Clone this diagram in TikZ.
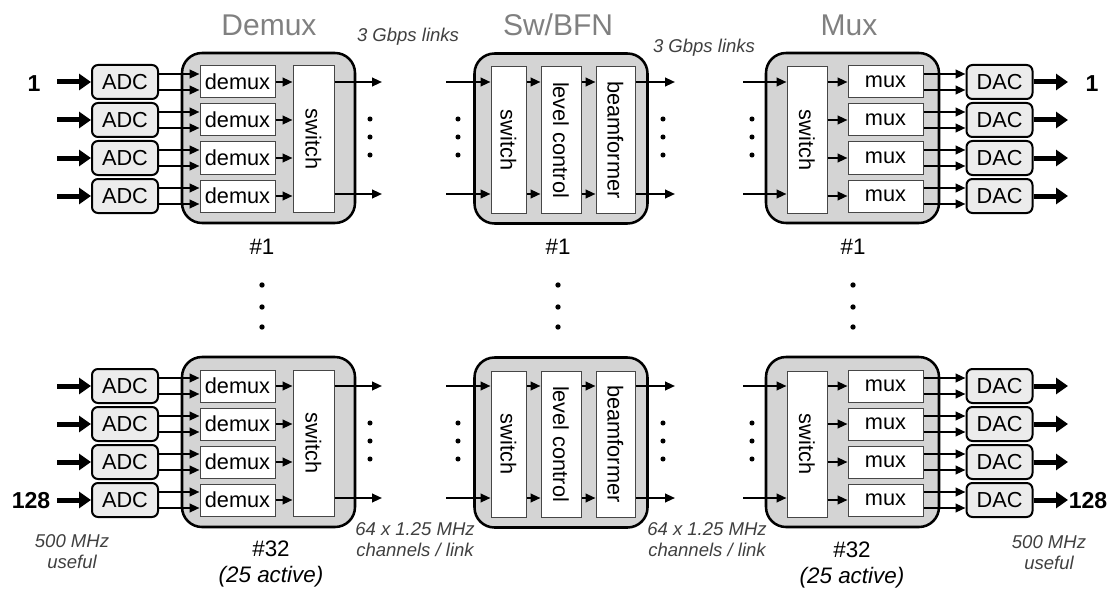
\documentclass[tikz,border=0pt]{standalone}
\usepackage{fontspec}
\setmainfont{Liberation Sans}
\usetikzlibrary{arrows.meta, positioning, calc}
\definecolor{boardgray}{RGB}{212,212,212}
\definecolor{convgray}{RGB}{236,236,236}
\definecolor{titlegray}{RGB}{128,128,128}
\definecolor{notegray}{RGB}{64,64,64}
\definecolor{edgegray}{RGB}{70,70,70}
\def\px{0.75pt}
\newcommand\blockfont{\fontsize{16.3}{19}\selectfont}
\newcommand\titlefont{\fontsize{22.5}{26}\selectfont}
\newcommand\notefont{\fontsize{13.9}{15.8}\selectfont\itshape}
\newcommand\tagfont{\fontsize{16.8}{20.2}\selectfont}
\newcommand\numfont{\fontsize{17.3}{20}\selectfont\bfseries}
\tikzset{
    board/.style={rectangle, rounded corners=15pt, draw=black, fill=boardgray, line width=1.9pt, minimum width=173*\px, minimum height=170*\px, inner sep=0pt},
    conv/.style={rectangle, rounded corners=4.5pt, draw=black, fill=convgray, line width=1.5pt, minimum width=66*\px, minimum height=34*\px, inner sep=0pt, font=\blockfont},
    unit/.style={rectangle, draw=edgegray, fill=white, line width=0.75pt, minimum width=75*\px, minimum height=32*\px, inner sep=0pt, font=\blockfont},
    tall/.style={rectangle, draw=edgegray, fill=white, line width=0.75pt, minimum width=#1*\px, minimum height=146*\px, inner sep=0pt},
    vtext/.style={label={[rotate=-90, font=\blockfont, inner sep=0pt]center:#1}},
    link/.style={-{Triangle[length=7.5pt, width=6.5pt]}, line width=1.5pt},
    fat/.style={-{Triangle[length=9pt, width=12pt]}, line width=3.75pt},
    title/.style={text=titlegray, font=\titlefont},
    note/.style={text=notegray, font=\notefont, align=center},
    tag/.style={font=\tagfont, align=center},
    num/.style={font=\numfont},
}

\begin{document}
\begin{tikzpicture}[x=0.75pt, y=-0.75pt]
    \useasboundingbox (0,0) rectangle (1111,592);

    % Titles and link notes
    \node[title] (tdmx) at (269,25) {Demux};
    \node[title] (tbfn) at (558,25) {Sw/BFN};
    \node[title] (tmux) at (849,25) {Mux};
    \node[note] (gbl) at (408,37) {3 Gbps links};
    \node[note] (gbr) at (704,48) {3 Gbps links};

    \foreach \g/\o in {1/0, 2/304} {
        % Demux boards
        \node[board] (dmx\g) at (268.5,138+\o) {};
        \node[tall=41, vtext=switch] (dsw\g) at (313.5,139+\o) {};
        % Sw/BFN boards
        \node[board] (bfn\g) at (561,138.5+\o) {};
        \node[tall=35, vtext=switch] (bsw\g) at (508.5,140+\o) {};
        \node[tall=40, vtext=level control] (lvl\g) at (561,140+\o) {};
        \node[tall=39, vtext=beamformer] (bmf\g) at (615.5,140+\o) {};
        % Mux boards
        \node[board] (mux\g) at (852.5,138+\o) {};
        \node[tall=40, vtext=switch] (msw\g) at (807,140+\o) {};

        \foreach \r in {1,...,4} {
            \pgfmathsetmacro\yy{\o+82+38*(\r-1)}
            \coordinate (in\g\r) at (57,\yy);
            \coordinate (out\g\r) at (1068,\yy);
            \node[conv] (adc\g\r) at (125,\yy) {ADC};
            \node[unit] (dmu\g\r) at (237.5,\yy) {demux};
            \node[unit] (mmu\g\r) at (885.5,\yy) {mux};
            \node[conv] (dac\g\r) at (999.5,\yy) {DAC};

            \draw[fat] (in\g\r) -- (adc\g\r);
            \draw[link] ([yshift=6pt]adc\g\r.east) -- ([yshift=6pt]dmu\g\r.west);
            \draw[link] ([yshift=-6pt]adc\g\r.east) -- ([yshift=-6pt]dmu\g\r.west);
            \draw[link] (dmu\g\r) -- (dmu\g\r -| dsw\g.west);
            \draw[link] (mmu\g\r -| msw\g.east) -- (mmu\g\r);
            \draw[link] ([yshift=6pt]mmu\g\r.east) -- ([yshift=6pt]dac\g\r.west);
            \draw[link] ([yshift=-6pt]mmu\g\r.east) -- ([yshift=-6pt]dac\g\r.west);
            \draw[fat] (dac\g\r) -- (out\g\r);
        }

        % Links between boards
        \foreach \yy [count=\k] in {82,194} {
            \coordinate (dout\g\k) at (382,\yy+\o);
            \coordinate (bin\g\k) at (446,\yy+\o);
            \coordinate (bout\g\k) at (675,\yy+\o);
            \coordinate (min\g\k) at (743,\yy+\o);
            \draw[link] (dout\g\k -| dsw\g.east) -- (dout\g\k);
            \draw[link] (bin\g\k) -- (bin\g\k -| bsw\g.west);
            \draw[link] (bin\g\k -| bsw\g.east) -- (bin\g\k -| lvl\g.west);
            \draw[link] (bin\g\k -| lvl\g.east) -- (bin\g\k -| bmf\g.west);
            \draw[link] (bin\g\k -| bmf\g.east) -- (bout\g\k);
            \draw[link] (min\g\k) -- (min\g\k -| msw\g.west);
        }

        % Link dots
        \foreach \x in {370,458,663,752}
            \foreach \d in {119,137,155}
                \fill (\x,\d+\o) circle (1.9pt);
    }

    % Board numbers
    \node[tag] (ndmx1) at (262,247) {\#1};
    \node[tag] (nbfn1) at (558,247) {\#1};
    \node[tag] (nmux1) at (853,247) {\#1};
    \node[tag] (ndmx2) at (271,564) {\#32\\\textit{(25 active)}};
    \node[tag] (nmux2) at (852,565) {\#32\\\textit{(25 active)}};
    \foreach \x in {262,558,853}
        \foreach \d in {285,307,327}
            \fill (\x,\d) circle (2pt);

    % Channel numbers and notes
    \node[num] (chi1) at (34,84) {1};
    \node[num] (chi2) at (31,501) {128};
    \node[num] (cho1) at (1092,84) {1};
    \node[num] (cho2) at (1088,501) {128};
    \node[note] (bwl) at (72,552) {500 MHz\\useful};
    \node[note] (bwr) at (1049,553) {500 MHz\\useful};
    \node[note] (chl) at (415,540) {64 x 1.25 MHz\\channels / link};
    \node[note] (chr) at (707,540) {64 x 1.25 MHz\\channels / link};
\end{tikzpicture}
\end{document}
